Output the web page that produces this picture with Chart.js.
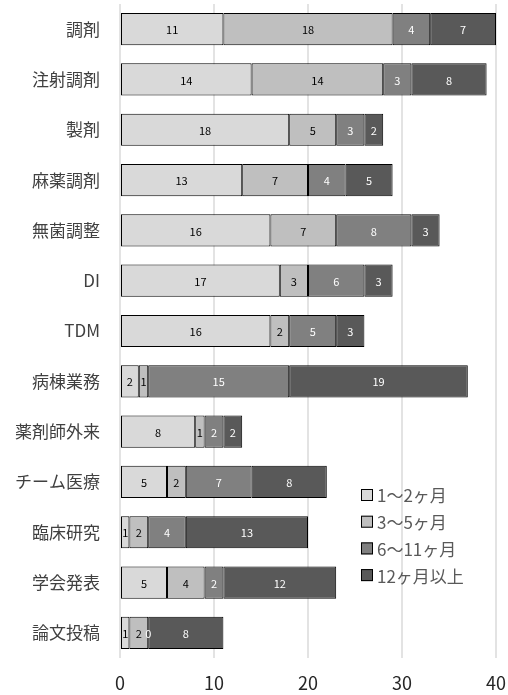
<!DOCTYPE html>
<html lang="ja">
  <head>
    <meta charset="UTF-8" />
    <title>chart</title>
    <script src="https://cdn.jsdelivr.net/npm/chart.js"></script>
    <style>
      body { margin: 0; background: #fff; }
      #wrap { width: 508px; height: 695px; }
    </style>
  </head>
  <body>
    <div id="wrap"><canvas id="chart" width="508" height="695"></canvas></div>

    <script>
      // data
      const categories = ['調剤', '注射調剤', '製剤', '麻薬調剤', '無菌調整', 'DI', 'TDM', '病棟業務', '薬剤師外来', 'チーム医療', '臨床研究', '学会発表', '論文投稿'];
      const seriesNames = ['1～2ヶ月', '3～5ヶ月', '6～11ヶ月', '12ヶ月以上'];
      const m1to2 = [11, 14, 18, 13, 16, 17, 16, 2, 8, 5, 1, 5, 1];
      const m3to5 = [18, 14, 5, 7, 7, 3, 2, 1, 1, 2, 2, 4, 2];
      const m6to11 = [4, 3, 3, 4, 8, 6, 5, 15, 2, 7, 4, 2, 0];
      const m12plus = [7, 8, 2, 5, 3, 3, 3, 19, 2, 8, 13, 12, 8];
      const xTicks = [0, 10, 20, 30, 40];

      const fills = ['#d9d9d9', '#bfbfbf', '#808080', '#595959'];
      const labelColors = ['#000000', '#000000', '#ffffff', '#ffffff'];
      const font = '"Noto Sans CJK JP", "Noto Sans", sans-serif';

      const allSeries = [m1to2, m3to5, m6to11, m12plus];
      const datasets = allSeries.map((vals, i) => ({
        label: seriesNames[i],
        data: vals,
        backgroundColor: fills[i],
        borderColor: '#000000',
        borderWidth: 1,
        borderSkipped: false,
        barPercentage: 0.64,
        categoryPercentage: 1.0,
      }));

      // value labels in the middle of each segment
      const valueLabels = {
        id: 'valueLabels',
        afterDatasetsDraw(chart) {
          const ctx = chart.ctx;
          ctx.save();
          ctx.font = '11px ' + font;
          ctx.textAlign = 'center';
          ctx.textBaseline = 'middle';
          chart.data.datasets.forEach((ds, i) => {
            const meta = chart.getDatasetMeta(i);
            meta.data.forEach((bar, j) => {
              const x = (bar.x + bar.base) / 2;
              ctx.fillStyle = labelColors[i];
              ctx.fillText(String(ds.data[j]), x, bar.y + 1);
            });
          });
          ctx.restore();
        },
      };

      // legend inside the plot, lower right
      const insideLegend = {
        id: 'insideLegend',
        afterDraw(chart) {
          const ctx = chart.ctx;
          ctx.save();
          ctx.font = '17px ' + font;
          ctx.textBaseline = 'middle';
          const x0 = 361;
          const y0 = 495;
          const step = 26.7;
          chart.data.datasets.forEach((ds, i) => {
            const y = y0 + i * step;
            ctx.fillStyle = ds.backgroundColor;
            ctx.fillRect(x0, y - 6, 12, 12);
            ctx.strokeStyle = '#000000';
            ctx.lineWidth = 1;
            ctx.strokeRect(x0 + 0.5, y - 5.5, 11, 11);
            ctx.fillStyle = '#595959';
            ctx.fillText(ds.label, x0 + 16, y + 1);
          });
          ctx.restore();
        },
      };

      new Chart(document.getElementById('chart'), {
        type: 'bar',
        data: { labels: categories, datasets: datasets },
        plugins: [valueLabels, insideLegend],
        options: {
          indexAxis: 'y',
          responsive: false,
          animation: false,
          layout: { padding: { top: 4, right: 12, bottom: 0, left: 0 } },
          plugins: {
            legend: { display: false },
            tooltip: { enabled: false },
          },
          scales: {
            x: {
              stacked: true,
              min: 0,
              max: 40,
              afterBuildTicks(scale) {
                scale.ticks = xTicks.map((v) => ({ value: v }));
              },
              afterFit(scale) {
                scale.height = 37;
                scale.paddingRight = 0;
                scale.paddingLeft = 0;
              },
              grid: { color: '#e3e3e3', lineWidth: 2, drawTicks: false },
              border: { display: false },
              ticks: {
                color: '#262626',
                font: { family: font, size: 18 },
                padding: 14,
              },
            },
            y: {
              stacked: true,
              afterFit(scale) {
                scale.width = 120;
                scale.paddingTop = 0;
                scale.paddingBottom = 0;
              },
              grid: { display: false },
              border: { display: false },
              ticks: {
                color: '#404040',
                font: { family: font, size: 17 },
                padding: 12,
              },
            },
          },
        },
      });
    </script>
  </body>
</html>
